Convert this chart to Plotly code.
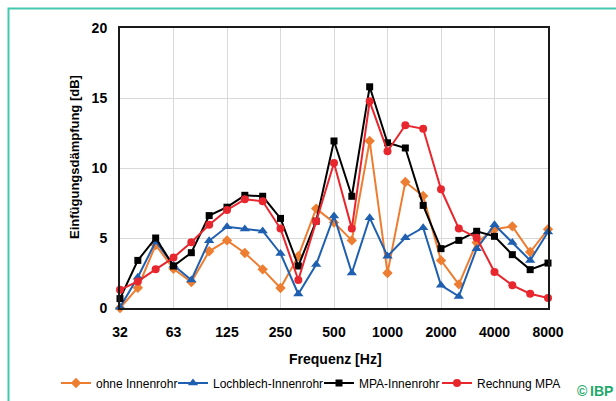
import plotly.graph_objects as go

freqs = ["32","40","50","63","80","100","125","160","200","250","315","400","500",
         "630","800","1000","1250","1600","2000","2500","3150","4000","5000","6300","8000"]
tick_labels = ["32","63","125","250","500","1000","2000","4000","8000"]

ohne = [0.0,1.45,4.5,2.8,1.86,4.05,4.83,3.93,2.76,1.43,3.7,7.1,6.1,4.83,11.93,2.5,9.0,8.0,3.4,1.69,4.67,5.62,5.83,4.0,5.62]
lochblech = [0.05,2.2,4.75,3.05,2.0,4.8,5.8,5.64,5.5,3.9,1.0,3.1,6.57,2.5,6.45,3.7,5.02,5.74,1.62,0.83,4.24,5.95,4.67,3.4,5.43]
mpa = [0.67,3.4,5.0,3.0,3.95,6.6,7.2,8.05,7.98,6.4,3.0,6.2,11.93,7.98,15.8,11.8,11.43,7.33,4.24,4.83,5.48,5.12,3.81,2.74,3.21]
rechnung = [1.3,1.9,2.76,3.6,4.7,5.95,7.0,7.76,7.62,5.67,2.0,6.2,10.36,5.67,14.76,11.2,13.05,12.8,8.48,5.67,5.02,2.57,1.62,1.02,0.71]

idx = list(range(len(freqs)))
tick_idx = [freqs.index(t) for t in tick_labels]

# body margin is removed in the page, so figure coords = reference coords
OFF = 0
W, H = 616, 401
L, T = 120 - OFF, 28 - OFF
PR, PB = 548 - OFF, 308 - OFF
R, B = W - PR, H - PB
pw, ph = PR - L, PB - T

def px(x):
    return (x - OFF - L) / pw

def py(y):
    return (PB - (y - OFF)) / ph

series = [
    ("ohne Innenrohr", ohne, "#ED7D31", "diamond", 8, "legend", 96),
    ("Lochblech-Innenrohr", lochblech, "#1F5FAF", "triangle-up", 9, "legend2", 213),
    ("MPA-Innenrohr", mpa, "#000000", "square", 7, "legend3", 359),
    ("Rechnung MPA", rechnung, "#E8262D", "circle", 8, "legend4", 477),
]

font = "Liberation Sans, Arial, sans-serif"
fig = go.Figure()
legends = {}
for name, vals, col, sym, sz, lg, tx in series:
    fig.add_trace(go.Scatter(
        x=idx, y=vals, name=name, mode="lines+markers",
        line=dict(color=col, width=2),
        marker=dict(symbol=sym, size=sz, color=col),
        cliponaxis=False, legend=lg,
    ))
    legends[lg] = dict(orientation="h", x=px(tx - 40), xanchor="left",
                       y=py(383), yanchor="middle",
                       font=dict(size=12, family=font, color="black"),
                       itemwidth=30, bgcolor="rgba(0,0,0,0)", borderwidth=0)

fig.update_layout(
    width=W, height=H,
    margin=dict(l=L, r=R, t=T, b=B, autoexpand=False),
    paper_bgcolor="white", plot_bgcolor="white",
    font=dict(family=font, color="black"),
    showlegend=True,
    xaxis=dict(
        range=[0, 24], tickvals=tick_idx, ticktext=tick_labels,
        showgrid=True, gridcolor="#D9D9D9", gridwidth=1,
        showline=True, linecolor="#1A1A1A", linewidth=2, mirror=True,
        ticks="", tickfont=dict(size=14, family=font, weight="bold"),
        ticklabelstandoff=10, zeroline=False,
    ),
    yaxis=dict(
        range=[0, 20], tickvals=[0, 5, 10, 15, 20],
        showgrid=True, gridcolor="#D9D9D9", gridwidth=1,
        showline=True, linecolor="#1A1A1A", linewidth=2, mirror=True,
        ticks="", tickfont=dict(size=14, family=font, weight="bold"),
        ticklabelstandoff=8, zeroline=False,
    ),
    shapes=[
        dict(type="path", xref="paper", yref="paper",
             path=f"M {px(700)} {py(8.5)} L {px(8.5)} {py(8.5)} L {px(8.5)} {py(460)}",
             line=dict(color="#45C8B0", width=2), layer="below"),
    ],
    annotations=[
        dict(text="<b>Einfügungsdämpfung [dB]</b>", xref="paper", yref="paper",
             x=px(74), y=py(157), xanchor="center", yanchor="middle", textangle=-90,
             showarrow=False, font=dict(size=13, family=font, color="black")),
        dict(text="<b>Frequenz [Hz]</b>", xref="paper", yref="paper",
             x=px(335), y=py(359), xanchor="center", yanchor="middle",
             showarrow=False, font=dict(size=14, family=font, color="black")),
        dict(text="<b>©\u2009IBP</b>", xref="paper", yref="paper", x=px(575), y=py(391),
             xanchor="left", yanchor="middle", showarrow=False,
             font=dict(size=14, color="#22A86A", family=font)),
    ],
    **legends,
)

fig.write_html(
    "out.html",
    config={"displayModeBar": False},
    post_script="document.body.style.margin='0';document.body.style.overflow='hidden';",
)
